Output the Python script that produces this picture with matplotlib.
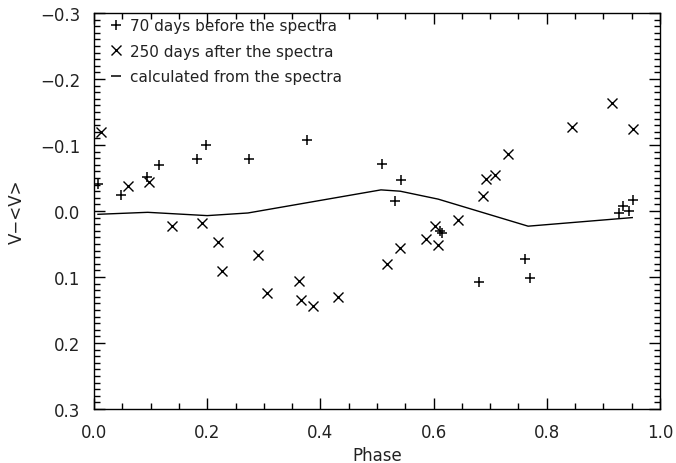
import matplotlib
matplotlib.use("Agg")
import matplotlib.pyplot as plt
from matplotlib.lines import Line2D
from matplotlib.ticker import MultipleLocator

# "+" : 70 days before the spectra
plus_phase = [0.007, 0.048, 0.094, 0.115, 0.182, 0.198, 0.274, 0.376, 0.509,
              0.542, 0.532, 0.952, 0.934, 0.945, 0.928, 0.611, 0.614, 0.680,
              0.761, 0.770]
plus_dv = [-0.041, -0.024, -0.052, -0.070, -0.079, -0.100, -0.079, -0.108, -0.071,
           -0.047, -0.015, -0.017, -0.008, 0.000, 0.003, 0.031, 0.033, 0.107,
           0.073, 0.101]

# "x" : 250 days after the spectra
x_phase = [0.012, 0.060, 0.097, 0.138, 0.191, 0.219, 0.226, 0.290, 0.306, 0.362,
           0.366, 0.387, 0.431, 0.518, 0.541, 0.587, 0.608, 0.602, 0.643, 0.687,
           0.693, 0.708, 0.731, 0.845, 0.915, 0.952]
x_dv = [-0.120, -0.038, -0.044, 0.023, 0.018, 0.047, 0.091, 0.067, 0.124, 0.106,
        0.135, 0.144, 0.130, 0.080, 0.056, 0.042, 0.052, 0.023, 0.014, -0.023,
        -0.048, -0.055, -0.086, -0.127, -0.164, -0.124]

# line : calculated from the spectra
calc_phase = [0.007, 0.095, 0.200, 0.272, 0.507, 0.541, 0.608, 0.767, 0.951]
calc_dv = [0.005, 0.002, 0.007, 0.003, -0.032, -0.030, -0.018, 0.023, 0.010]

legend_labels = ["70 days before the spectra", "250 days after the spectra",
                 "calculated from the spectra"]

plt.rcParams['font.family'] = ['DejaVu Sans']
fig = plt.figure(figsize=(6.76, 4.64), dpi=100)
ax = fig.add_axes([94/676, 1 - 410/464, (660-94)/676, (410-14)/464])

ax.plot(plus_phase, plus_dv, linestyle='none', marker='+', color='black',
        markersize=7.5, markeredgewidth=1.1)
ax.plot(x_phase, x_dv, linestyle='none', marker='x', color='black',
        markersize=6.5, markeredgewidth=1.0)
ax.plot(calc_phase, calc_dv, color='black', linewidth=1.0)

ax.set_xlim(0.0, 1.0)
ax.set_ylim(0.3, -0.3)
ax.xaxis.set_major_locator(MultipleLocator(0.2))
ax.xaxis.set_minor_locator(MultipleLocator(0.05))
ax.yaxis.set_major_locator(MultipleLocator(0.1))
ax.yaxis.set_minor_locator(MultipleLocator(0.01))
ax.xaxis.set_major_formatter(matplotlib.ticker.FormatStrFormatter('%.1f'))
ax.yaxis.set_major_formatter(matplotlib.ticker.FuncFormatter(
    lambda v, p: ('\u2212' if v < -1e-9 else '') + '%.1f' % abs(v)))
ax.tick_params(which='both', direction='in', top=True, right=True, width=1.0,
               labelsize=12, color='black', labelcolor='#222222')
ax.tick_params(which='major', length=8, pad=10)
ax.tick_params(which='minor', length=4)
for s in ax.spines.values():
    s.set_linewidth(1.0)

ax.set_xlabel('Phase', fontsize=12, labelpad=4, color='#222222')
ax.set_ylabel('V\u2212<V>', fontsize=12, labelpad=10, color='#222222')

handles = [Line2D([], [], linestyle='none', marker='+', color='black',
                  markersize=7.5, markeredgewidth=1.1),
           Line2D([], [], linestyle='none', marker='x', color='black',
                  markersize=6.5, markeredgewidth=1.0),
           Line2D([], [], linestyle='none', marker='_', color='black',
                  markersize=7, markeredgewidth=1.1)]
leg = ax.legend(handles, legend_labels, loc='upper left', frameon=False, fontsize=11,
                handlelength=0.8, handletextpad=0.5, labelspacing=0.68,
                borderaxespad=0.2, borderpad=0.4, bbox_to_anchor=(0.012, 1.01))
for t in leg.get_texts():
    t.set_color('#222222')

fig.savefig('out.png', dpi=100)
